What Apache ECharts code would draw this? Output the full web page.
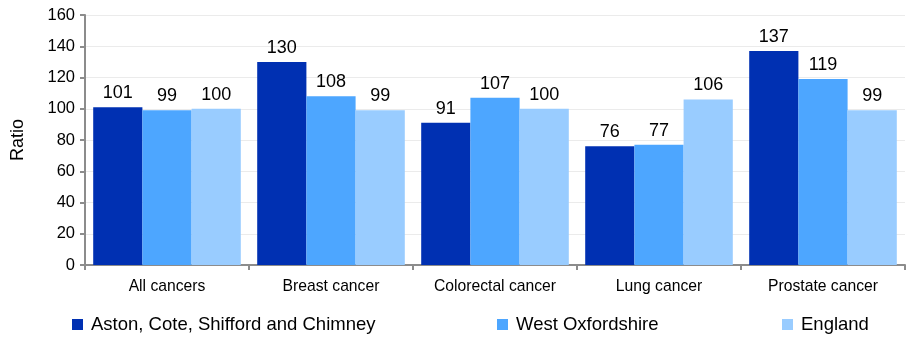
<!DOCTYPE html>
<html><head><meta charset="utf-8">
<script src="https://cdn.jsdelivr.net/npm/echarts@6/dist/echarts.min.js"></script>
<style>html,body{margin:0;padding:0;background:#fff}#c{width:906px;height:337px}</style>
</head><body><div id="c"></div>
<script>
const categories = ["All cancers", "Breast cancer", "Colorectal cancer", "Lung cancer", "Prostate cancer"];
const seriesNames = ["Aston, Cote, Shifford and Chimney", "West Oxfordshire", "England"];
const aston = [101, 130, 91, 76, 137];
const westOx = [99, 108, 107, 77, 119];
const england = [100, 99, 100, 106, 99];
const yTicks = [0, 20, 40, 60, 80, 100, 120, 140, 160];
const colors = ["#0030B2", "#4DA6FF", "#99CCFF"];
const FONT = "Liberation Sans";
const chart = echarts.init(document.getElementById('c'));
const values = [aston, westOx, england];
chart.setOption({
  animation: false,
  textStyle: {fontFamily: FONT},
  grid: {left: 85, right: 1, top: 15, bottom: 72},
  legend: seriesNames.map((n, i) => ({
    data: [n], left: [72, 497, 782][i], top: 315, padding: 0, itemWidth: 11, itemHeight: 11, icon: 'rect', itemGap: 8,
    textStyle: {fontFamily: FONT, fontSize: 18.5, color: '#000', padding: [0, 0, 0, 3]}
  })),
  xAxis: {
    type: 'category', data: categories,
    axisLine: {lineStyle: {color: '#8c8c8c', width: 2}},
    axisTick: {show: true, alignWithLabel: false, length: 5, lineStyle: {color: '#8c8c8c', width: 2}},
    axisLabel: {fontFamily: FONT, fontSize: 15.7, color: '#000', margin: 14}
  },
  yAxis: {
    type: 'value', min: yTicks[0], max: yTicks[yTicks.length - 1], interval: 20,
    name: 'Ratio', nameLocation: 'middle', nameGap: 58, nameRotate: 90,
    nameTextStyle: {fontFamily: FONT, fontSize: 18, color: '#000'},
    axisLine: {show: true, lineStyle: {color: '#8c8c8c', width: 2}},
    axisTick: {show: true, length: 5, lineStyle: {color: '#8c8c8c', width: 2}},
    axisLabel: {fontFamily: FONT, fontSize: 16.5, color: '#000', margin: 10},
    splitLine: {lineStyle: {color: '#ebebeb', width: 1}}
  },
  series: seriesNames.map((n, i) => ({
    name: n, type: 'bar', data: values[i], barGap: '0%', barCategoryGap: '10%',
    itemStyle: {color: colors[i]},
    label: {show: true, position: 'top', fontFamily: FONT, fontSize: 18, color: '#000', distance: 5}
  }))
});
</script></body></html>
